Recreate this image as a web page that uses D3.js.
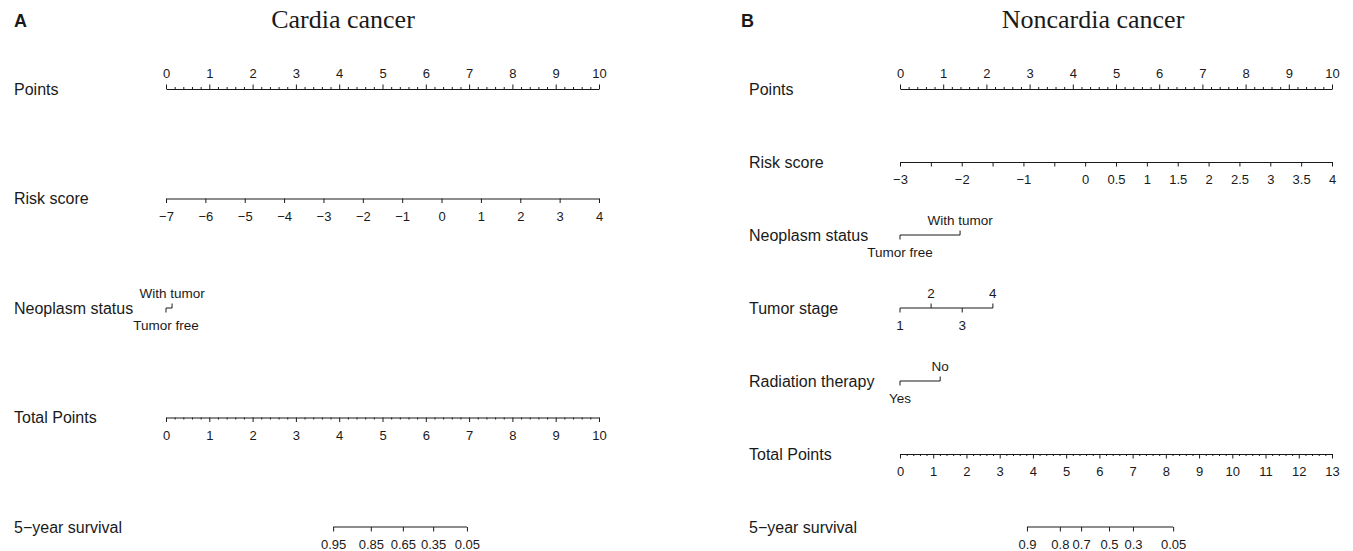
<!DOCTYPE html>
<html><head><meta charset="utf-8">
<script src="https://cdn.jsdelivr.net/npm/d3@7"></script>
<style>body{margin:0;background:#fff}svg{display:block}</style>
</head><body>
<svg id="chart" width="1353" height="551"></svg>
<script>
// ---------- DATA ----------
// Panel A: Cardia cancer
const titleA = "Cardia cancer";
const rowsA = ["Points", "Risk score", "Neoplasm status", "Total Points", "5\u2212year survival"];
const pointsTicksA = [0,1,2,3,4,5,6,7,8,9,10];
const riskDomainA = [-7, 4];
const riskTicksA = [-7,-6,-5,-4,-3,-2,-1,0,1,2,3,4];
const neoplasmLabelsA = ["Tumor free", "With tumor"];
const neoplasmPointsA = [0, 0.14];
const totalMaxA = 10;
const survivalLabelsA = ["0.95", "0.85", "0.65", "0.35", "0.05"];
const survivalPointsA = [3.86, 4.73, 5.47, 6.17, 6.95];

// Panel B: Noncardia cancer
const titleB = "Noncardia cancer";
const rowsB = ["Points", "Risk score", "Neoplasm status", "Tumor stage", "Radiation therapy", "Total Points", "5\u2212year survival"];
const pointsTicksB = [0,1,2,3,4,5,6,7,8,9,10];
const riskDomainB = [-3, 4];
const riskTicksB = [-3,-2.5,-2,-1.5,-1,-0.5,0,0.5,1,1.5,2,2.5,3,3.5,4];
const riskHiddenB = [-2.5,-1.5,-0.5];
const neoplasmLabelsB = ["Tumor free", "With tumor"];
const neoplasmPointsB = [0, 1.39];
const stageLabelsB = ["1", "2", "3", "4"];
const stagePointsB = [0, 0.72, 1.44, 2.15];
const radiationLabelsB = ["Yes", "No"];
const radiationPointsB = [0, 0.93];
const totalMaxB = 13;
const survivalLabelsB = ["0.9", "0.8", "0.7", "0.5", "0.3", "0.05"];
const survivalPointsB = [3.82, 4.81, 5.45, 6.29, 7.01, 8.22];

// ---------- DRAW ----------
const svg = d3.select("#chart");
const FONT = "Liberation Sans, Arial, Helvetica, sans-serif";
const INK = "#1a1a1a";
const fmt = v => d3.format("")(v).replace("-", "\u2212");

function styleAxis(g){
  g.selectAll("path.domain").attr("stroke", INK).attr("stroke-width", 1);
  g.selectAll(".tick line").attr("stroke", INK).attr("stroke-width", 1);
  g.selectAll(".tick text").attr("fill", INK).attr("font-size", "13px").attr("font-family", FONT);
  g.attr("font-family", FONT);
}

function minorTicks(max){
  const arr = [];
  for (let i = 0; i <= max * 5; i++) if (i % 5 !== 0) arr.push(i / 5);
  return arr;
}

function categorical(g, scale, y, labels, pts){
  const xs = pts.map(p => scale(p));
  g.append("line").attr("x1", xs[0]).attr("x2", xs[xs.length-1])
    .attr("y1", y).attr("y2", y).attr("stroke", INK);
  labels.forEach((lab, i) => {
    const above = i % 2 === 1;
    g.append("line").attr("x1", xs[i]).attr("x2", xs[i])
      .attr("y1", y).attr("y2", above ? y - 4.5 : y + 4.5).attr("stroke", INK);
    g.append("text").attr("x", xs[i]).attr("y", above ? y - 10.5 : y + 12.5)
      .attr("dy", above ? "0em" : "0.71em")
      .attr("text-anchor", "middle").attr("font-family", FONT)
      .attr("font-size", "13.5px").attr("fill", INK).text(lab);
  });
}

function panel(cfg){
  const g = svg.append("g");
  g.append("text").attr("x", cfg.letterX).attr("y", 27).attr("font-family", FONT)
    .attr("font-weight", "bold").attr("font-size", "18px").attr("fill", INK).text(cfg.letter);
  g.append("text").attr("x", cfg.titleX).attr("y", 28).attr("text-anchor", "middle")
    .attr("font-family", "Liberation Serif, Times New Roman, serif")
    .attr("font-size", "26px").attr("fill", INK).text(cfg.title);

  const rowY = d3.scalePoint().domain(cfg.rows).range([89, 527]);
  cfg.rows.forEach(r => {
    g.append("text").attr("x", cfg.labelX).attr("y", rowY(r)).attr("dy", "0.35em")
      .attr("font-family", FONT).attr("font-size", "16px").attr("fill", INK).text(r);
  });

  const pts = d3.scaleLinear().domain([0, 10]).range([cfg.x0, cfg.x1]);
  const risk = d3.scaleLinear().domain(cfg.riskDomain).range([cfg.x0, cfg.x1]);
  const total = d3.scaleLinear().domain([0, cfg.totalMax]).range([cfg.x0, cfg.x1]);

  // Points
  const yP = rowY("Points");
  g.append("g").attr("transform", `translate(0,${yP})`)
    .call(d3.axisTop(pts).tickValues(minorTicks(10)).tickSize(2).tickSizeOuter(0).tickFormat(""))
    .call(s => s.select("path.domain").remove()).call(styleAxis);
  g.append("g").attr("transform", `translate(0,${yP})`)
    .call(d3.axisTop(pts).tickValues(cfg.pointsTicks).tickSize(4.5).tickSizeOuter(0).tickPadding(6.5).tickFormat(fmt))
    .call(styleAxis);

  // Risk score
  const yR = rowY("Risk score");
  g.append("g").attr("transform", `translate(0,${yR})`)
    .call(d3.axisBottom(risk).tickValues(cfg.riskTicks).tickSize(4.5).tickSizeOuter(0).tickPadding(8.5)
      .tickFormat(v => (cfg.riskHidden || []).includes(v) ? "" : fmt(v)))
    .call(styleAxis);

  cfg.cats.forEach(c => categorical(g, pts, rowY(c.row), c.labels, c.points));

  // Total points
  const yT = rowY("Total Points");
  g.append("g").attr("transform", `translate(0,${yT})`)
    .call(d3.axisBottom(total).tickValues(minorTicks(cfg.totalMax)).tickSize(2).tickSizeOuter(0).tickFormat(""))
    .call(s => s.select("path.domain").remove()).call(styleAxis);
  g.append("g").attr("transform", `translate(0,${yT})`)
    .call(d3.axisBottom(total).tickValues(d3.range(0, cfg.totalMax + 1)).tickSize(4.5).tickSizeOuter(0).tickPadding(8.5).tickFormat(fmt))
    .call(styleAxis);

  // Survival
  const yS = rowY("5\u2212year survival");
  const survScale = d3.scaleOrdinal().domain(cfg.survLabels).range(cfg.survPoints.map(p => total(p)));
  const survPos = d3.scaleLinear().domain([0, cfg.totalMax]).range([cfg.x0, cfg.x1]);
  g.append("g").attr("transform", `translate(0,${yS})`)
    .call(d3.axisBottom(survPos).tickValues(cfg.survPoints).tickSize(4.5).tickSizeOuter(0).tickPadding(8.5)
      .tickFormat((v, i) => cfg.survLabels[i]))
    .call(s => s.select("path.domain")
      .attr("d", `M${survScale(cfg.survLabels[0])},0H${survScale(cfg.survLabels[cfg.survLabels.length-1])}`))
    .call(styleAxis);
}

panel({
  letter: "A", letterX: 14, title: titleA, titleX: 343, labelX: 14,
  x0: 166, x1: 599, rows: rowsA, pointsTicks: pointsTicksA,
  riskDomain: riskDomainA, riskTicks: riskTicksA, totalMax: totalMaxA,
  cats: [{row: "Neoplasm status", labels: neoplasmLabelsA, points: neoplasmPointsA}],
  survLabels: survivalLabelsA, survPoints: survivalPointsA
});
panel({
  letter: "B", letterX: 741, title: titleB, titleX: 1093, labelX: 749,
  x0: 900, x1: 1332, rows: rowsB, pointsTicks: pointsTicksB,
  riskDomain: riskDomainB, riskTicks: riskTicksB, riskHidden: riskHiddenB, totalMax: totalMaxB,
  cats: [
    {row: "Neoplasm status", labels: neoplasmLabelsB, points: neoplasmPointsB},
    {row: "Tumor stage", labels: stageLabelsB, points: stagePointsB},
    {row: "Radiation therapy", labels: radiationLabelsB, points: radiationPointsB}
  ],
  survLabels: survivalLabelsB, survPoints: survivalPointsB
});
</script>
</body></html>
